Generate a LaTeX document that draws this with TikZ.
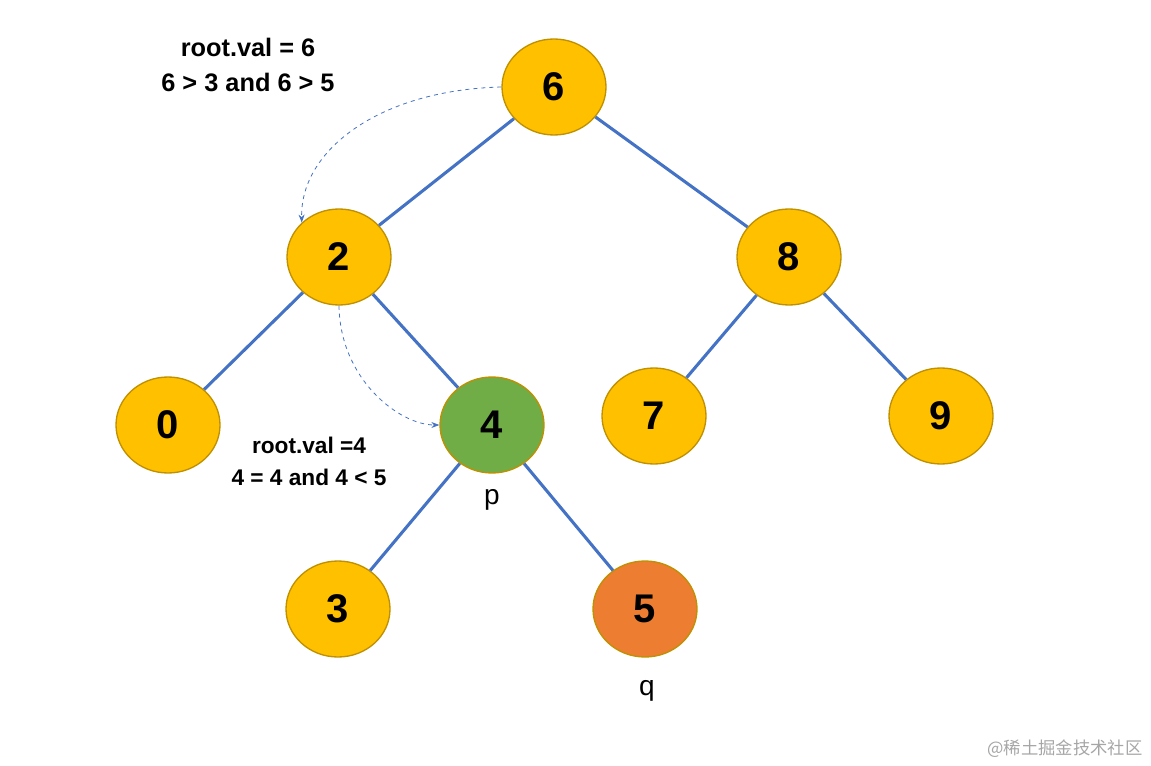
\documentclass[tikz,border=0pt]{standalone}
\usepackage{fontspec}
\setmainfont{Liberation Sans}
\newfontfamily\cjk{Noto Sans CJK SC}
\usetikzlibrary{shapes.geometric,arrows.meta}
\definecolor{yel}{HTML}{FFC000}
\definecolor{yelb}{HTML}{BF9000}
\definecolor{grn}{HTML}{70AD47}
\definecolor{org}{HTML}{ED7D31}
\definecolor{blu}{HTML}{4472C4}
\begin{document}
\begin{tikzpicture}[x=0.75pt,y=-0.75pt,
  nd/.style={ellipse,draw=yelb,line width=1pt,fill=yel,minimum width=78pt,minimum height=72pt,inner sep=0pt,font=\fontsize{30}{30}\selectfont\bfseries},
  ed/.style={draw=blu,line width=2.3pt},
  da/.style={draw=blu,dashed,line width=0.6pt,-{Stealth[length=6pt]}},
  lab/.style={font=\fontsize{19}{26}\selectfont\bfseries,align=center},
  lab2/.style={font=\fontsize{17}{24}\selectfont\bfseries,align=center}]
\useasboundingbox (0,0) rectangle (1151,766);
\node[nd] (n6) at (554,87) {6};
\node[nd] (n2) at (339,257) {2};
\node[nd] (n8) at (789,257) {8};
\node[nd] (n0) at (168,425) {0};
\node[nd,fill=grn] (n4) at (492,425) {4};
\node[nd] (n7) at (654,416) {7};
\node[nd] (n9) at (941,416) {9};
\node[nd] (n3) at (338,609) {3};
\node[nd,fill=org] (n5) at (645,609) {5};
\draw[ed] (n6)--(n2); \draw[ed] (n6)--(n8);
\draw[ed] (n2)--(n0); \draw[ed] (n2)--(n4);
\draw[ed] (n8)--(n7); \draw[ed] (n8)--(n9);
\draw[ed] (n4)--(n3); \draw[ed] (n4)--(n5);
\draw[da] (n6.west) .. controls (380,90) and (300,150) .. (n2.north west);
\draw[da] (n2.south) .. controls (340,380) and (400,425) .. (n4.west);
\node[lab] (t1) at (248,65) {root.val = 6\\6 > 3 and 6 > 5};
\node[lab2] (t2) at (309,461) {root.val =4\\4 = 4 and 4 < 5};
\node[font=\fontsize{21}{21}\selectfont] (p) at (492,500) {p};
\node[font=\fontsize{21}{21}\selectfont] (q) at (647,691) {q};
\node[font=\fontsize{13}{13}\selectfont\cjk,text=gray!70] (w) at (1065,749) {@稀土掘金技术社区};
\end{tikzpicture}
\end{document}
